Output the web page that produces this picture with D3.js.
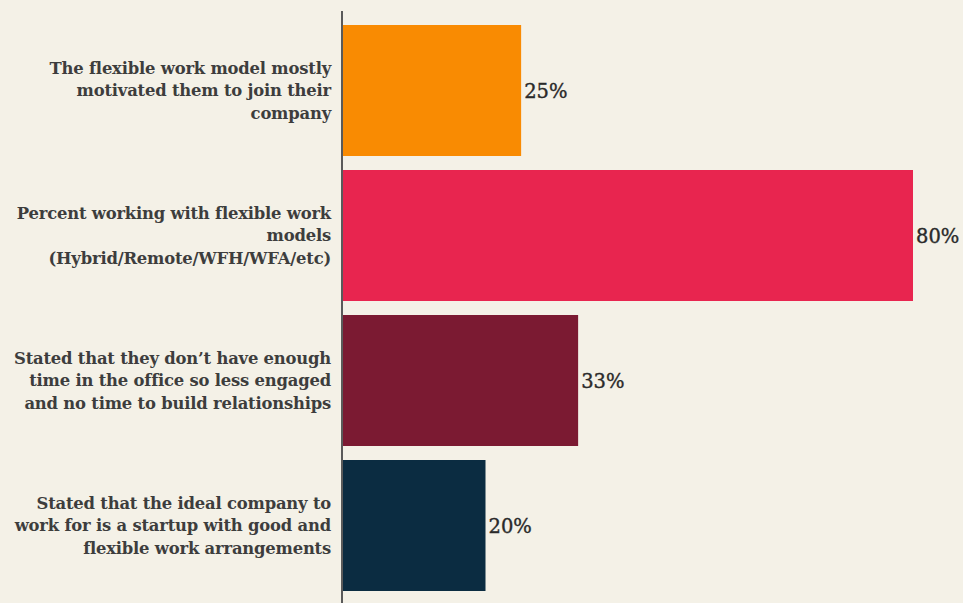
<!DOCTYPE html>
<html>
<head>
<meta charset="utf-8">
<script src="https://cdn.jsdelivr.net/npm/d3@7"></script>
<style>
  html, body { margin: 0; padding: 0; background: #f4f1e7; }
  svg { display: block; }
</style>
</head>
<body>
<svg id="chart" width="963" height="603"></svg>
<script>
// Survey results on flexible work
const categories = [
  "The flexible work model mostly motivated them to join their company",
  "Percent working with flexible work models (Hybrid/Remote/WFH/WFA/etc)",
  "Stated that they don't have enough time in the office so less engaged and no time to build relationships",
  "Stated that the ideal company to work for is a startup with good and flexible work arrangements"
];
const labelLines = [
  ["The flexible work model mostly", "motivated them to join their", "company"],
  ["Percent working with flexible work", "models", "(Hybrid/Remote/WFH/WFA/etc)"],
  ["Stated that they don\u2019t have enough", "time in the office so less engaged", "and no time to build relationships"],
  ["Stated that the ideal company to", "work for is a startup with good and", "flexible work arrangements"]
];
const values = [25, 80, 33, 20];
const barColors = ["#f98b02", "#e8254f", "#7b1a32", "#0b2c41"];

const svg = d3.select("#chart");
const width = 963, height = 603;
const x0 = 343;

const x = d3.scaleLinear().domain([0, 80]).range([x0, 913]);
const y = d3.scaleBand()
  .domain(categories)
  .range([17.75, 598.25])
  .paddingInner(0.0966)
  .paddingOuter(0.05);

const data = categories.map((c, i) => ({ c, v: values[i], color: barColors[i], lines: labelLines[i] }));

// Bars
svg.append("g").selectAll("rect")
  .data(data)
  .join("rect")
  .attr("x", x(0))
  .attr("y", d => y(d.c))
  .attr("width", d => x(d.v) - x(0))
  .attr("height", y.bandwidth())
  .attr("fill", d => d.color);

// Vertical axis line
svg.append("line")
  .attr("x1", x0 - 1).attr("x2", x0 - 1)
  .attr("y1", 11).attr("y2", height)
  .attr("stroke", "#5a5a5a")
  .attr("stroke-width", 2);

// Category labels
const lineH = 22.5;
const fontFam = "'DejaVu Serif', serif";
const labels = svg.append("g")
  .selectAll("text")
  .data(data)
  .join("text")
  .attr("text-anchor", "end")
  .attr("font-family", fontFam)
  .attr("font-size", 16.4)
  .attr("font-weight", "bold")
  .attr("letter-spacing", -0.2)
  .attr("fill", "#3d3d3d")
  .attr("transform", d => `translate(331, ${y(d.c) + y.bandwidth() / 2})`);

labels.selectAll("tspan")
  .data(d => d.lines.map((t, k) => ({ t, k, n: d.lines.length })))
  .join("tspan")
  .attr("x", 0)
  .attr("y", d => (d.k - (d.n - 1) / 2) * lineH)
  .attr("dy", "0.35em")
  .text(d => d.t);

// Value labels
svg.append("g").selectAll("text")
  .data(data)
  .join("text")
  .attr("x", d => x(d.v) + 3)
  .attr("y", d => y(d.c) + y.bandwidth() / 2)
  .attr("dy", "0.36em")
  .attr("font-family", fontFam)
  .attr("font-size", 19.5)
  .attr("fill", "#2a2a2a")
  .attr("stroke", "#2a2a2a")
  .attr("stroke-width", 0.35)
  .text(d => d.v + "%");
</script>
</body>
</html>
